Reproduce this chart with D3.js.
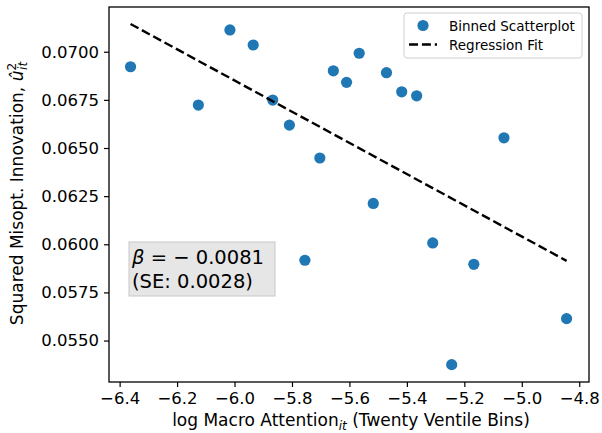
<!DOCTYPE html>
<html>
<head>
<meta charset="utf-8">
<script src="https://cdn.jsdelivr.net/npm/d3@7"></script>
<style>
  body { margin: 0; background: #fff; }
  text { font-family: "DejaVu Sans", sans-serif; }
</style>
</head>
<body>
<div id="chart"></div>
<script>
const margin = {top: 7, right: 13, bottom: 51, left: 109},
      width = 602 - margin.left - margin.right,
      height = 433 - margin.top - margin.bottom;

// binned scatter
const binX = [-6.362, -6.126, -6.016, -5.935, -5.867, -5.809, -5.703, -5.755, -5.656, -5.610,
              -5.566, -5.517, -5.471, -5.418, -5.366, -5.310, -5.244, -5.167, -5.062, -4.844];
const binY = [0.06922, 0.06723, 0.07113, 0.07035, 0.06749, 0.06619, 0.06448, 0.05917, 0.06901, 0.06841,
              0.06992, 0.06212, 0.06891, 0.06792, 0.06771, 0.06007, 0.05375, 0.05896, 0.06553, 0.05614];
// regression fit endpoints
const fitX = [-6.362, -4.844];
const fitY = [0.07144, 0.05914];
const xTicks = [-6.4, -6.2, -6.0, -5.8, -5.6, -5.4, -5.2, -5.0, -4.8];
const yTicks = [0.0550, 0.0575, 0.0600, 0.0625, 0.0650, 0.0675, 0.0700];

const svg = d3.select("#chart").append("svg")
  .attr("width", 602)
  .attr("height", 433);

const g = svg.append("g").attr("transform", `translate(${margin.left},${margin.top})`);

const x = d3.scaleLinear().domain([-6.437, -4.766]).range([0, width]);
const y = d3.scaleLinear().domain([0.052848, 0.072323]).range([height, 0]);

const fmtMinus = s => s.replace("-", "\u2212");

const xAxis = g.append("g")
  .attr("transform", `translate(0,${height})`)
  .call(d3.axisBottom(x).tickValues(xTicks).tickSize(5).tickPadding(5)
    .tickFormat(d => fmtMinus(d3.format(".1f")(d))));
const yAxis = g.append("g")
  .call(d3.axisLeft(y).tickValues(yTicks).tickSize(5).tickPadding(5)
    .tickFormat(d3.format(".4f")));

[xAxis, yAxis].forEach(a => {
  a.select(".domain").remove();
  a.selectAll(".tick line").attr("stroke", "#000").attr("stroke-width", 1.2);
  a.selectAll(".tick text").attr("fill", "#000").style("font-size", "16.5px");
});

// spines
g.append("rect")
  .attr("width", width).attr("height", height)
  .attr("fill", "none").attr("stroke", "#000").attr("stroke-width", 1.3);

g.selectAll(".dot")
  .data(binX)
  .enter()
  .append("circle")
  .attr("class", "dot")
  .attr("cx", d => x(d))
  .attr("cy", (d, i) => y(binY[i]))
  .attr("r", 5.6)
  .attr("fill", "#1f77b4");

const fitLine = d3.line()
  .x(d => x(d))
  .y((d, i) => y(fitY[i]));

g.append("path")
  .datum(fitX)
  .attr("fill", "none")
  .attr("stroke", "#000")
  .attr("stroke-width", 2.4)
  .attr("stroke-dasharray", "9,3.9")
  .attr("d", fitLine);

// legend
const leg = g.append("g").attr("transform", `translate(${404 - margin.left},${13 - margin.top})`);
leg.append("rect")
  .attr("width", 178).attr("height", 45).attr("rx", 3)
  .attr("fill", "#fff").attr("fill-opacity", 0.8)
  .attr("stroke", "#d0d0d0").attr("stroke-width", 1);
leg.append("circle").attr("cx", 19).attr("cy", 12.5).attr("r", 5.6).attr("fill", "#1f77b4");
leg.append("line")
  .attr("x1", 5).attr("x2", 33).attr("y1", 31.5).attr("y2", 31.5)
  .attr("stroke", "#000").attr("stroke-width", 2.4).attr("stroke-dasharray", "9,3.9");
leg.append("text").attr("x", 45).attr("y", 17.5).style("font-size", "13.5px").text("Binned Scatterplot");
leg.append("text").attr("x", 45).attr("y", 36.5).style("font-size", "13.5px").text("Regression Fit");

// coefficient box
const box = g.append("g").attr("transform", `translate(${129 - margin.left},${242 - margin.top})`);
box.append("rect")
  .attr("width", 146).attr("height", 54)
  .attr("fill", "#e6e6e6").attr("stroke", "#c8c8c8").attr("stroke-width", 1);
const t1 = box.append("text").attr("x", 3).attr("y", 22).style("font-size", "19.5px");
t1.append("tspan").style("font-style", "italic").text("\u03b2");
t1.append("tspan").text(" = \u2212 0.0081");
box.append("text").attr("x", 3).attr("y", 46).style("font-size", "19.5px").text("(SE: 0.0028)");

// axis labels
const xl = svg.append("text")
  .attr("x", margin.left + width / 2 + 2)
  .attr("y", 426)
  .attr("text-anchor", "middle")
  .style("font-size", "17px");
xl.append("tspan").text("log Macro Attention");
xl.append("tspan").attr("dy", 3.5).style("font-size", "12px").style("font-style", "italic").text("it");
xl.append("tspan").attr("dy", -3.5).text(" (Twenty Ventile Bins)");

const yl = svg.append("text")
  .attr("text-anchor", "middle")
  .attr("transform", `translate(23,${margin.top + height / 2 - 1})rotate(-90)`)
  .style("font-size", "17px");
yl.append("tspan").text("Squared Misopt. Innovation, ");
yl.append("tspan").style("font-style", "italic").text("u\u0302");
yl.append("tspan").attr("dy", -7).style("font-size", "12px").text("2");
yl.append("tspan").attr("dx", -7).attr("dy", 11).style("font-size", "12px").style("font-style", "italic").text("it");
</script>
</body>
</html>
